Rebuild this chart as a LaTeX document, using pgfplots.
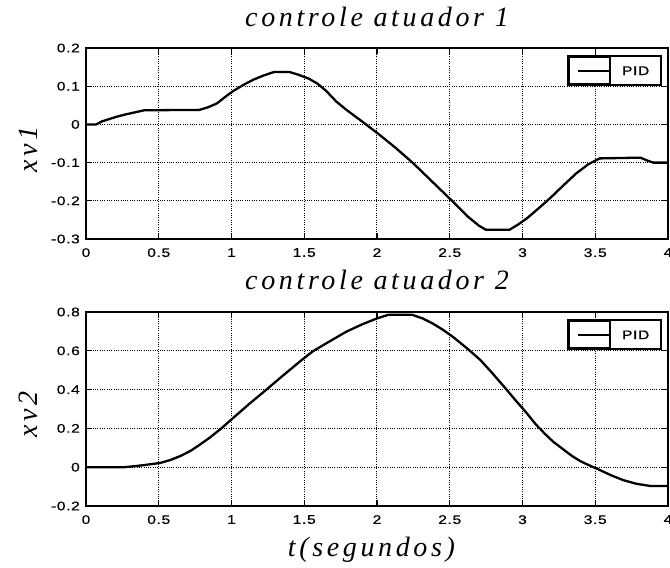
\documentclass[border=0pt]{standalone}
\usepackage{fontspec}
\usepackage{pgfplots}
\pgfplotsset{compat=1.18}
\setmainfont{Liberation Serif}
\newfontfamily\tickfont[FakeStretch=1.25, LetterSpace=5, FakeBold=0.6]{Liberation Sans}
\newfontfamily\labfont[LetterSpace=13]{Liberation Serif}
\newcommand{\tickfs}{\tickfont\fontsize{12.5}{14}\selectfont}
\newcommand{\labfs}{\labfont\itshape\fontsize{28}{32}\selectfont}

\pgfplotsset{
  atuador/.style={
    scale only axis,
    width=582pt,
    xmin=0, xmax=4,
    xtick={0,0.5,1,1.5,2,2.5,3,3.5,4},
    xticklabels={0,0.5,1,1.5,2,2.5,3,3.5,4},
    grid=major,
    major grid style={black, line width=1pt, dash pattern=on 1pt off 1.3pt},
    axis line style={black, line width=1.8pt},
    tick style={black, line width=1.2pt},
    tick align=inside,
    major tick length=6pt,
    tick label style={font=\tickfs},
    xticklabel style={inner sep=0pt, yshift=-9pt},
    yticklabel style={inner sep=0pt, xshift=-6pt},
    title style={font=\labfs, at={(axis description cs:0.5,1)}, anchor=base, inner sep=0pt},
    ylabel style={font=\labfs, at={(axis description cs:-0.082,0.47)}, anchor=south, inner sep=0pt},
    xlabel style={font=\labfs, inner sep=0pt},
    legend style={at={(axis description cs:0.9897,0.963)}, anchor=north east,
      draw=black, line width=2pt, fill=white, inner sep=0pt,
      nodes={inner sep=0pt, text depth=0pt}, font=\tickfs},
    legend cell align=left,
    legend image code/.code={%
      \path (-9pt,-13.5pt) rectangle (32pt,13.5pt);
      \draw[#1] (0pt,0pt) -- (32pt,0pt);},
  }
}

\begin{document}
\begin{tikzpicture}
% actuator 1
\begin{axis}[atuador,
  at={(86pt,-239pt)}, anchor=south west,
  height=191pt,
  ymin=-0.3, ymax=0.2,
  ytick={-0.3,-0.2,-0.1,0,0.1,0.2},
  yticklabels={-0.3,-0.2,-0.1,0,0.1,0.2},
  title={controle atuador 1},
  title style={yshift=15.5pt},
  ylabel={xv1},
]
\addplot[black, line width=2.3pt, line join=round] coordinates {
  (0,0) (0.07,0) (0.11,0.008) (0.16,0.014) (0.21,0.020) (0.27,0.026)
  (0.33,0.031) (0.40,0.037) (0.78,0.038) (0.84,0.045) (0.90,0.055)
  (0.95,0.070) (1.01,0.087) (1.08,0.103) (1.15,0.117) (1.22,0.128)
  (1.29,0.137) (1.40,0.137) (1.46,0.130) (1.53,0.120) (1.59,0.107)
  (1.65,0.088) (1.72,0.060) (1.79,0.038) (1.90,0.007) (2.01,-0.025)
  (2.13,-0.062) (2.25,-0.102) (2.38,-0.150) (2.51,-0.198) (2.62,-0.240)
  (2.70,-0.265) (2.75,-0.276) (2.91,-0.276) (2.97,-0.262) (3.03,-0.246)
  (3.11,-0.220) (3.19,-0.193) (3.28,-0.160) (3.37,-0.128) (3.45,-0.105)
  (3.53,-0.089) (3.81,-0.087) (3.86,-0.095) (3.90,-0.100) (4.0,-0.100)
};
\addlegendentry{\makebox[50pt][l]{\hspace{11pt}PID}}
\end{axis}

% actuator 2
\begin{axis}[atuador,
  at={(86pt,-506pt)}, anchor=south west,
  height=194pt,
  ymin=-0.2, ymax=0.8,
  ytick={-0.2,0,0.2,0.4,0.6,0.8},
  yticklabels={-0.2,0,0.2,0.4,0.6,0.8},
  title={controle atuador 2},
  title style={yshift=16.5pt},
  ylabel={xv2},
  xlabel={t(segundos)},
  xlabel style={at={(axis description cs:0.4905,0)}, anchor=base, yshift=-50.7pt},
]
\addplot[black, line width=2.3pt, line join=round] coordinates {
  (0,0) (0.26,0) (0.33,0.005) (0.39,0.010) (0.51,0.022) (0.58,0.037)
  (0.65,0.058) (0.72,0.085) (0.78,0.115) (0.85,0.152) (0.93,0.200)
  (1.01,0.253) (1.12,0.325) (1.24,0.400) (1.35,0.470) (1.47,0.545)
  (1.56,0.598) (1.65,0.638) (1.79,0.699) (1.90,0.737) (2.00,0.767)
  (2.08,0.786) (2.24,0.786) (2.31,0.768) (2.38,0.742) (2.45,0.710)
  (2.52,0.673) (2.62,0.612) (2.71,0.553) (2.79,0.487) (2.87,0.418)
  (2.95,0.347) (3.03,0.278) (3.09,0.222) (3.15,0.175) (3.21,0.132)
  (3.28,0.092) (3.34,0.058) (3.40,0.030) (3.47,0.006) (3.53,-0.014)
  (3.61,-0.042) (3.69,-0.066) (3.78,-0.085) (3.88,-0.097) (4.0,-0.097)
};
\addlegendentry{\makebox[50pt][l]{\hspace{11pt}PID}}
\end{axis}

\pgfresetboundingbox
\path[use as bounding box] (0pt,0pt) rectangle (670pt,-568pt);
\end{tikzpicture}
\end{document}
